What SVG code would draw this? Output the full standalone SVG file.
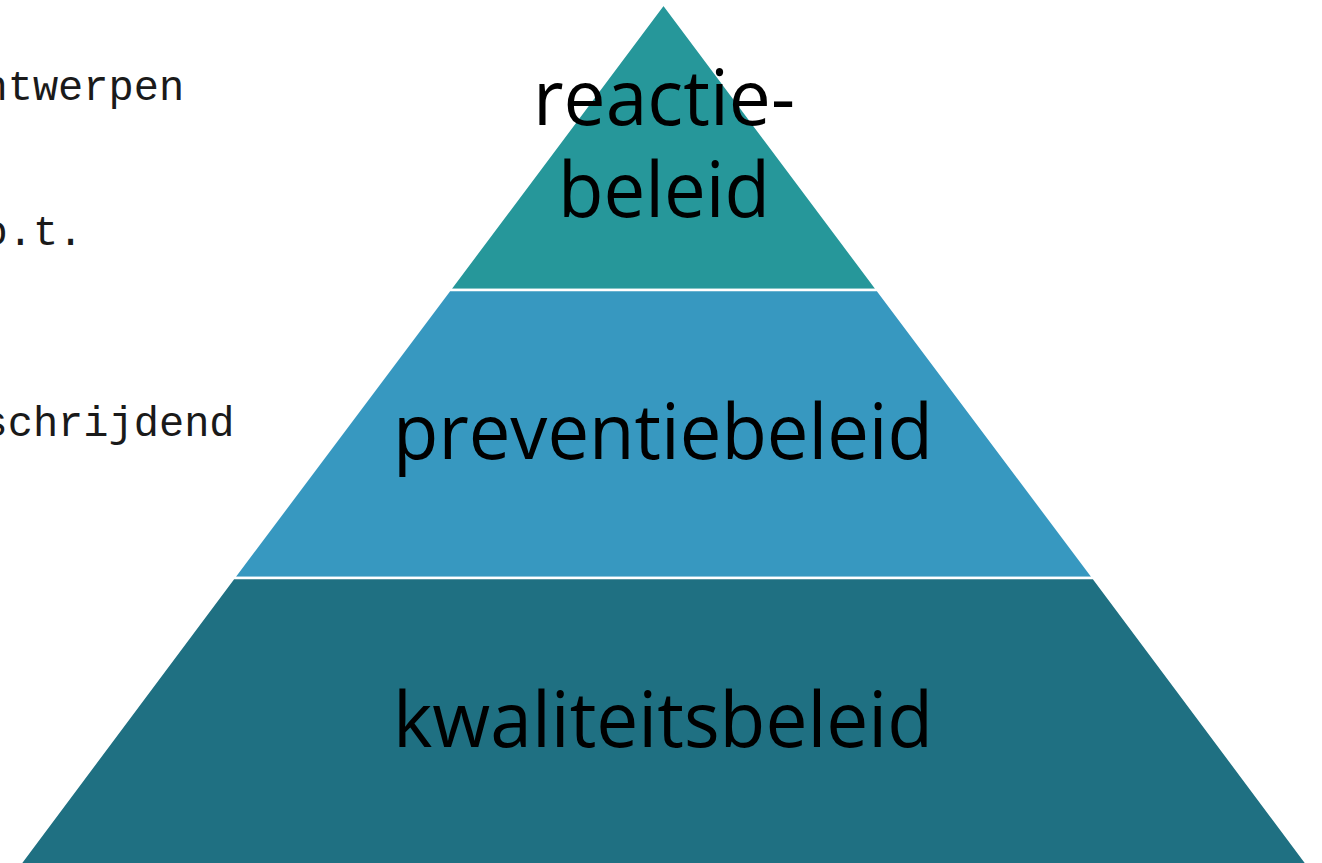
<svg xmlns="http://www.w3.org/2000/svg" width="1322" height="863" viewBox="0 0 1322 863">
<style>
.side{font-family:"Liberation Mono","Courier New",monospace;font-size:42px;fill:#1a1a1a}
.lbl{font-family:"Open Sans","Liberation Sans",sans-serif;font-size:76px;fill:#000;text-anchor:middle}
.layer{stroke:#fff;stroke-width:2.5}
</style>
<rect width="1322" height="863" fill="#fff"/>
<g id="side-notes">
<text class="side" x="-17.5" y="100">ntwerpen</text>
<text class="side" x="-17.5" y="245">o.t.</text>
<text class="side" x="-17.5" y="436">schrijdend</text>
</g>
<g id="connectors"/>
<g id="layer-top">
<polygon class="layer" points="663.5,4 877.5,290 449.5,290" fill="#26979A"/>
<text class="lbl" x="664" y="125" textLength="262" lengthAdjust="spacingAndGlyphs">reactie-</text>
<text class="lbl" x="664" y="217" textLength="212" lengthAdjust="spacingAndGlyphs">beleid</text>
</g>
<g id="layer-middle">
<polygon class="layer" points="449.5,290 877.5,290 1093.5,578 233.5,578" fill="#3798C0"/>
<text class="lbl" x="663" y="459" textLength="540" lengthAdjust="spacingAndGlyphs">preventiebeleid</text>
</g>
<g id="layer-bottom">
<polygon class="layer" points="233.5,578 1093.5,578 1310,868 17,868" fill="#1F7082"/>
<text class="lbl" x="663" y="747" textLength="540" lengthAdjust="spacingAndGlyphs">kwaliteitsbeleid</text>
</g>
</svg>
